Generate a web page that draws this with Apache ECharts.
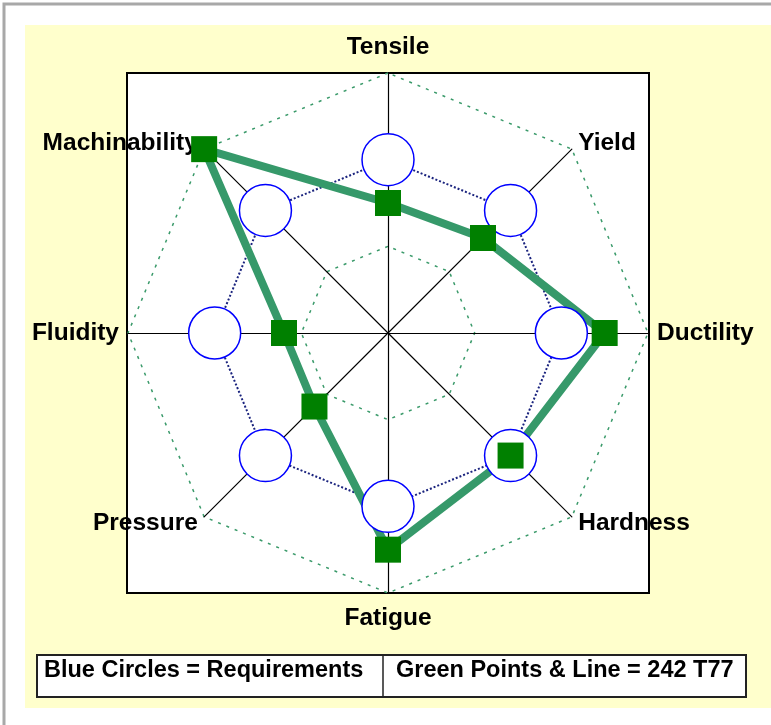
<!DOCTYPE html>
<html>
<head>
<meta charset="utf-8">
<script src="https://cdn.jsdelivr.net/npm/echarts@6/dist/echarts.min.js"></script>
<style>
  html, body { margin: 0; padding: 0; background: #fff; }
  #chart { width: 771px; height: 725px; }
</style>
</head>
<body>
<div id="chart"></div>
<script>
// indicators, listed counterclockwise from the top
var indicatorNames = ['Tensile', 'Machinability', 'Fluidity', 'Pressure', 'Fatigue', 'Hardness', 'Ductility', 'Yield']
var indicatorMax = 3
var requirements = [2, 2, 2, 2, 2, 2, 2, 2]
var alloy242T77 = [1.5, 3, 1.2, 1.2, 2.5, 2, 2.5, 1.55]
var legendLabels = ['Blue Circles = Requirements', 'Green Points & Line = 242 T77']

var chart = echarts.init(document.getElementById('chart'))

var labelFont = { fontFamily: 'Liberation Sans', fontWeight: 'bold', fontSize: 23.5, fill: '#000' }

chart.setOption({
  animation: false,
  graphic: [
    // outer frame
    { type: 'rect', z: -30, shape: { x: 4, y: 4, width: 820, height: 820 },
      style: { fill: '#fff', stroke: '#a8a8a8', lineWidth: 3 } },
    // yellow panel
    { type: 'rect', z: -20, shape: { x: 25, y: 25, width: 760, height: 683 },
      style: { fill: '#ffffcc', stroke: null } },
    // plot box
    { type: 'rect', z: -10, shape: { x: 127, y: 73, width: 522, height: 520 },
      style: { fill: '#fff', stroke: '#000', lineWidth: 2 } },
    // legend box
    { type: 'rect', z: -10, shape: { x: 37, y: 655, width: 709, height: 42 },
      style: { fill: '#fff', stroke: '#222', lineWidth: 2 } },
    { type: 'line', z: -5, shape: { x1: 383, y1: 655, x2: 383, y2: 697 },
      style: { stroke: '#222', lineWidth: 1.5 } },
    { type: 'text', z: 5, left: 44, top: 659,
      style: Object.assign({ text: legendLabels[0] }, labelFont) },
    { type: 'text', z: 5, left: 396, top: 659,
      style: Object.assign({ text: legendLabels[1] }, labelFont) }
  ],
  radar: {
    center: [388, 333],
    radius: 260,
    startAngle: 90,
    splitNumber: 3,
    shape: 'polygon',
    nameGap: 9,
    indicator: indicatorNames.map(function (n) {
      return { name: n, min: 0, max: indicatorMax }
    }),
    axisName: {
      color: '#000',
      fontFamily: 'Liberation Sans',
      fontWeight: 'bold',
      fontSize: 24.5,
      padding: [4, 0, 4, 0]
    },
    axisLine: { lineStyle: { color: '#000', width: 1.2 } },
    axisTick: { show: false },
    axisLabel: { show: false },
    splitArea: { show: false },
    splitLine: {
      lineStyle: {
        color: ['#3a9a6a', '#3a9a6a', 'rgba(0,0,0,0)', '#3a9a6a'],
        type: [3, 6],
        width: 1.5
      }
    }
  },
  series: [
    {
      name: 'Requirements',
      type: 'radar',
      symbol: 'circle',
      symbolSize: 52,
      itemStyle: { color: '#fff', borderColor: '#0000ff', borderWidth: 1.5 },
      lineStyle: { color: '#1a237e', width: 2, type: [2, 2] },
      data: [{ value: requirements }]
    },
    {
      name: '242 T77',
      type: 'radar',
      symbol: 'rect',
      symbolSize: 26,
      itemStyle: { color: '#008000' },
      lineStyle: { color: '#36996a', width: 8 },
      data: [{ value: alloy242T77 }]
    }
  ]
})
</script>
</body>
</html>
